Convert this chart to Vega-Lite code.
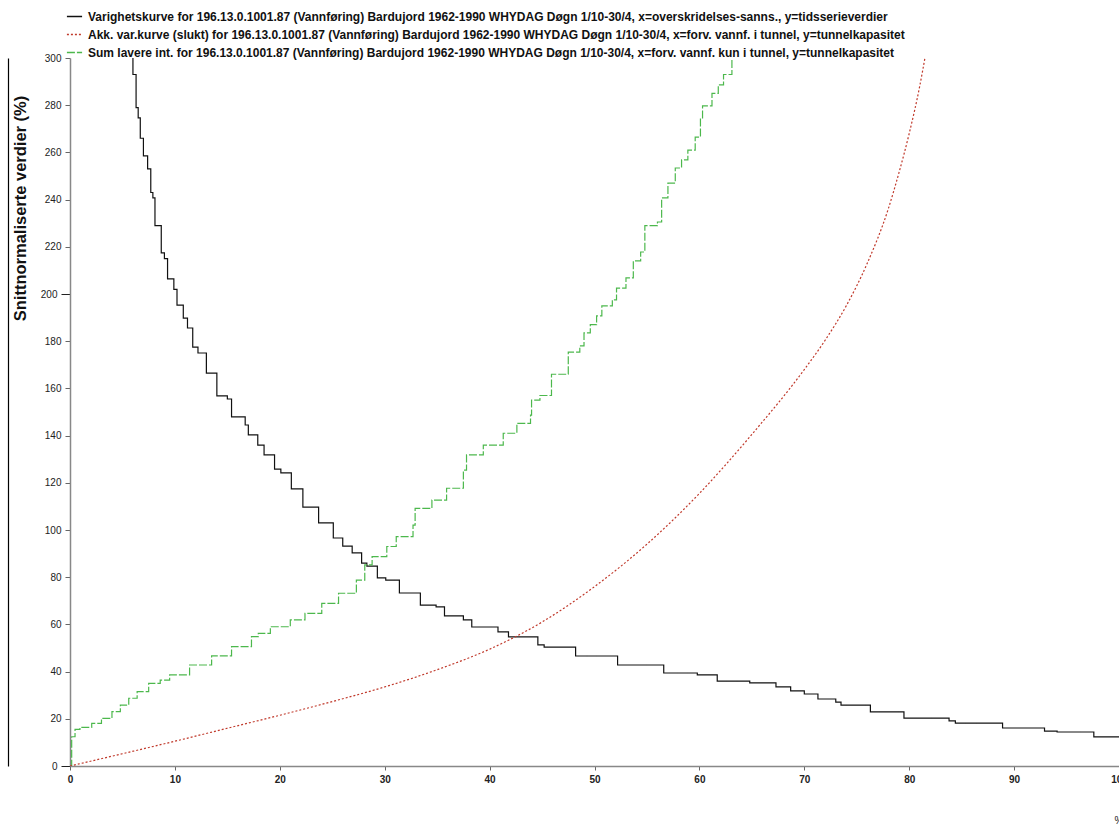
{
  "$schema": "https://vega.github.io/schema/vega-lite/v6.json",
  "width": 1049,
  "height": 708,
  "autosize": {"type": "none"},
  "padding": {"left": 70, "top": 58, "right": 0, "bottom": 59},
  "background": "white",
  "config": {"font": "Liberation Sans", "view": {"stroke": null}},
  "data": {"values": [
    {"s":"A","x":5.99,"y":300},{"s":"A","x":6.0,"y":293},{"s":"A","x":6.3,"y":279},{"s":"A","x":6.5,"y":274.6},{"s":"A","x":6.7,"y":266},{"s":"A","x":7.0,"y":258.5},{"s":"A","x":7.4,"y":253},{"s":"A","x":7.7,"y":243},{"s":"A","x":7.9,"y":240.7},{"s":"A","x":8.1,"y":229},{"s":"A","x":8.7,"y":217.4},{"s":"A","x":9.0,"y":215},{"s":"A","x":9.3,"y":206.4},{"s":"A","x":9.9,"y":202},{"s":"A","x":10.2,"y":195.3},{"s":"A","x":10.8,"y":189.8},{"s":"A","x":11.2,"y":185.6},{"s":"A","x":11.7,"y":177.5},{"s":"A","x":12.2,"y":175},{"s":"A","x":13.0,"y":166.5},{"s":"A","x":14.0,"y":156.8},{"s":"A","x":15.0,"y":155.5},{"s":"A","x":15.4,"y":147.9},{"s":"A","x":16.7,"y":144.5},{"s":"A","x":17.0,"y":140.3},{"s":"A","x":17.9,"y":136},{"s":"A","x":18.5,"y":131.8},{"s":"A","x":19.5,"y":125.8},{"s":"A","x":20.1,"y":124.2},{"s":"A","x":21.1,"y":117.4},{"s":"A","x":22.2,"y":109.7},{"s":"A","x":23.7,"y":103},{"s":"A","x":25.1,"y":96.6},{"s":"A","x":26.0,"y":93.2},{"s":"A","x":26.9,"y":90.3},{"s":"A","x":27.8,"y":86},{"s":"A","x":28.3,"y":84.7},{"s":"A","x":29.3,"y":79.7},{"s":"A","x":30.1,"y":78.8},{"s":"A","x":31.4,"y":73.3},{"s":"A","x":33.4,"y":68.2},{"s":"A","x":34.9,"y":67.4},{"s":"A","x":35.7,"y":63.6},{"s":"A","x":37.5,"y":61.9},{"s":"A","x":38.3,"y":58.9},{"s":"A","x":40.8,"y":56.8},{"s":"A","x":41.8,"y":54.7},{"s":"A","x":44.6,"y":51.3},{"s":"A","x":45.2,"y":50.4},{"s":"A","x":48.2,"y":46.6},{"s":"A","x":52.2,"y":42.8},{"s":"A","x":56.6,"y":39.4},{"s":"A","x":59.8,"y":38.6},{"s":"A","x":61.7,"y":36.0},{"s":"A","x":64.8,"y":35.2},{"s":"A","x":67.3,"y":33.5},{"s":"A","x":68.7,"y":31.8},{"s":"A","x":70.0,"y":30.5},{"s":"A","x":71.3,"y":28.4},{"s":"A","x":73.0,"y":27.1},{"s":"A","x":73.5,"y":25.8},{"s":"A","x":76.3,"y":22.9},{"s":"A","x":79.5,"y":20.3},{"s":"A","x":83.8,"y":19.1},{"s":"A","x":84.4,"y":18.2},{"s":"A","x":88.9,"y":16.1},{"s":"A","x":92.9,"y":14.8},{"s":"A","x":94.1,"y":14.4},{"s":"A","x":97.6,"y":12.3},{"s":"A","x":100,"y":12.3},
    {"s":"B","x":0,"y":0},{"s":"B","x":5,"y":5.2},{"s":"B","x":10,"y":10.5},{"s":"B","x":15,"y":16},{"s":"B","x":20,"y":21.5},{"s":"B","x":25,"y":27.3},{"s":"B","x":30,"y":33.5},{"s":"B","x":35,"y":40.8},{"s":"B","x":40,"y":49.5},{"s":"B","x":45,"y":61},{"s":"B","x":50,"y":76},{"s":"B","x":55,"y":94},{"s":"B","x":60,"y":115.5},{"s":"B","x":65,"y":140.5},{"s":"B","x":70,"y":168},{"s":"B","x":72,"y":180.5},{"s":"B","x":74,"y":195},{"s":"B","x":76,"y":213},{"s":"B","x":78,"y":236},{"s":"B","x":79,"y":251},{"s":"B","x":80,"y":268},{"s":"B","x":81,"y":288},{"s":"B","x":81.5,"y":300},
    {"s":"C","x":0,"y":0},{"s":"C","x":0.16,"y":12.4},{"s":"C","x":0.48,"y":15.5},{"s":"C","x":0.95,"y":16.4},{"s":"C","x":2.07,"y":18.1},{"s":"C","x":3.0,"y":20.2},{"s":"C","x":4.0,"y":23.0},{"s":"C","x":4.8,"y":25.8},{"s":"C","x":5.6,"y":28.7},{"s":"C","x":6.4,"y":31.5},{"s":"C","x":7.5,"y":35.0},{"s":"C","x":8.6,"y":36.4},{"s":"C","x":9.5,"y":38.6},{"s":"C","x":11.4,"y":42.8},{"s":"C","x":13.5,"y":46.7},{"s":"C","x":15.4,"y":50.6},{"s":"C","x":17.3,"y":54.8},{"s":"C","x":17.95,"y":56.2},{"s":"C","x":19.1,"y":59.0},{"s":"C","x":21.0,"y":61.9},{"s":"C","x":22.4,"y":64.7},{"s":"C","x":24.0,"y":68.9},{"s":"C","x":25.6,"y":73.2},{"s":"C","x":27.3,"y":78.8},{"s":"C","x":28.1,"y":85.2},{"s":"C","x":28.8,"y":88.7},{"s":"C","x":30.2,"y":93.0},{"s":"C","x":31.1,"y":97.2},{"s":"C","x":32.7,"y":102.1},{"s":"C","x":32.9,"y":109.2},{"s":"C","x":34.5,"y":112.7},{"s":"C","x":35.9,"y":117.7},{"s":"C","x":37.5,"y":125.4},{"s":"C","x":37.8,"y":131.8},{"s":"C","x":39.4,"y":136.0},{"s":"C","x":41.3,"y":141.0},{"s":"C","x":42.6,"y":145.2},{"s":"C","x":43.9,"y":148.7},{"s":"C","x":44.0,"y":155},{"s":"C","x":44.8,"y":157},{"s":"C","x":45.9,"y":166},{"s":"C","x":47.5,"y":175.4},{"s":"C","x":48.6,"y":178},{"s":"C","x":49.0,"y":183.5},{"s":"C","x":49.6,"y":187},{"s":"C","x":50.2,"y":190.7},{"s":"C","x":50.7,"y":195},{"s":"C","x":51.7,"y":197.5},{"s":"C","x":52.1,"y":202.5},{"s":"C","x":53.0,"y":206.8},{"s":"C","x":53.7,"y":214},{"s":"C","x":54.4,"y":217.8},{"s":"C","x":54.8,"y":229},{"s":"C","x":56.0,"y":230.5},{"s":"C","x":56.4,"y":240.7},{"s":"C","x":57.0,"y":247},{"s":"C","x":57.7,"y":253.4},{"s":"C","x":58.3,"y":256.8},{"s":"C","x":58.9,"y":261},{"s":"C","x":59.6,"y":266.5},{"s":"C","x":60.1,"y":274.6},{"s":"C","x":60.3,"y":279.7},{"s":"C","x":61.2,"y":285},{"s":"C","x":61.8,"y":288.6},{"s":"C","x":62.3,"y":293},{"s":"C","x":63.1,"y":300}
  ]},
  "layer": [
    {
      "transform": [{"filter": "datum.s != 'B'"}],
      "mark": {"type": "line", "interpolate": "step-after", "strokeWidth": 1.2, "clip": true},
      "encoding": {
        "x": {"field": "x", "type": "quantitative", "scale": {"domain": [0, 100], "nice": false},
          "axis": {"values": [0,10,20,30,40,50,60,70,80,90,100], "grid": false, "domainColor": "#888", "domainWidth": 1.5, "tickColor": "#666", "tickSize": 4, "labelFontSize": 10, "labelFontWeight": "bold", "labelColor": "#222", "labelPadding": 4, "labelFlush": false,
            "title": "%", "titleFontSize": 10, "titleFontWeight": "normal", "titleX": 1044, "titleY": 54, "titleAlign": "left", "titleBaseline": "middle", "titleColor": "#222"}},
        "y": {"field": "y", "type": "quantitative", "scale": {"domain": [0, 300], "nice": false},
          "axis": {"values": [0,20,40,60,80,100,120,140,160,180,200,220,240,260,280,300], "grid": false, "domainColor": "#888", "domainWidth": 1.5, "tickColor": {"condition": {"test": "datum.value == 200 || datum.value == 0", "value": "#222"}, "value": "#666"}, "tickSize": {"condition": {"test": "datum.value == 200 || datum.value == 0", "value": 9}, "value": 5}, "labelFontSize": 10, "labelColor": "#222", "labelPadding": 4, "labelFlush": false,
            "title": "Snittnormaliserte verdier (%)", "titleFontSize": 16.5, "titleFontWeight": "bold", "titleColor": "#111", "titleX": -50, "titleY": 150, "titleAngle": -90, "titleAlign": "center", "titleBaseline": "middle"}},
        "color": {"field": "s", "type": "nominal", "scale": {"domain": ["A","B","C"], "range": ["#111111","#c0392b","#4cb84c"]},
          "legend": {"orient": "none", "legendX": -4, "legendY": -50, "title": null, "symbolType": "stroke", "symbolSize": 230, "symbolStrokeWidth": 1.3, "labelFontSize": 12, "labelFontWeight": "bold", "labelColor": "#111", "labelLimit": 0, "rowPadding": 3, "labelOffset": 5,
            "labelExpr": "datum.label == 'A' ? 'Varighetskurve for 196.13.0.1001.87 (Vannføring) Bardujord  1962-1990 WHYDAG Døgn 1/10-30/4, x=overskridelses-sanns., y=tidsserieverdier' : datum.label == 'B' ? 'Akk. var.kurve (slukt) for 196.13.0.1001.87 (Vannføring) Bardujord  1962-1990 WHYDAG Døgn 1/10-30/4, x=forv. vannf. i tunnel, y=tunnelkapasitet' : 'Sum lavere int. for 196.13.0.1001.87 (Vannføring) Bardujord  1962-1990 WHYDAG Døgn 1/10-30/4, x=forv. vannf. kun i tunnel, y=tunnelkapasitet'"}},
        "strokeDash": {"field": "s", "type": "nominal", "scale": {"domain": ["A","B","C"], "range": [[1,0],[2,2],[8,2]]},
          "legend": {"orient": "none", "legendX": -4, "legendY": -50, "title": null, "symbolType": "stroke", "symbolSize": 230, "symbolStrokeWidth": 1.3, "labelFontSize": 12, "labelFontWeight": "bold", "labelColor": "#111", "labelLimit": 0, "rowPadding": 3, "labelOffset": 5,
            "labelExpr": "datum.label == 'A' ? 'Varighetskurve for 196.13.0.1001.87 (Vannføring) Bardujord  1962-1990 WHYDAG Døgn 1/10-30/4, x=overskridelses-sanns., y=tidsserieverdier' : datum.label == 'B' ? 'Akk. var.kurve (slukt) for 196.13.0.1001.87 (Vannføring) Bardujord  1962-1990 WHYDAG Døgn 1/10-30/4, x=forv. vannf. i tunnel, y=tunnelkapasitet' : 'Sum lavere int. for 196.13.0.1001.87 (Vannføring) Bardujord  1962-1990 WHYDAG Døgn 1/10-30/4, x=forv. vannf. kun i tunnel, y=tunnelkapasitet'"}}
      }
    },
    {
      "transform": [{"filter": "datum.s == 'B'"}],
      "mark": {"type": "line", "interpolate": "monotone", "strokeWidth": 1.2, "clip": true},
      "encoding": {
        "x": {"field": "x", "type": "quantitative"},
        "y": {"field": "y", "type": "quantitative"},
        "color": {"field": "s", "type": "nominal"},
        "strokeDash": {"field": "s", "type": "nominal"}
      }
    },
    {
      "transform": [{"filter": "datum.s == 'B'"}],
      "mark": {"type": "point", "opacity": 0},
      "encoding": {
        "x": {"field": "x", "type": "quantitative"},
        "y": {"field": "y", "type": "quantitative",
          "axis": {"orient": "left", "offset": 62, "domainColor": "#000", "domainWidth": 1.2, "ticks": false, "labels": false, "title": null, "grid": false}}
      }
    }
  ],
  "resolve": {"axis": {"y": "independent"}}
}
